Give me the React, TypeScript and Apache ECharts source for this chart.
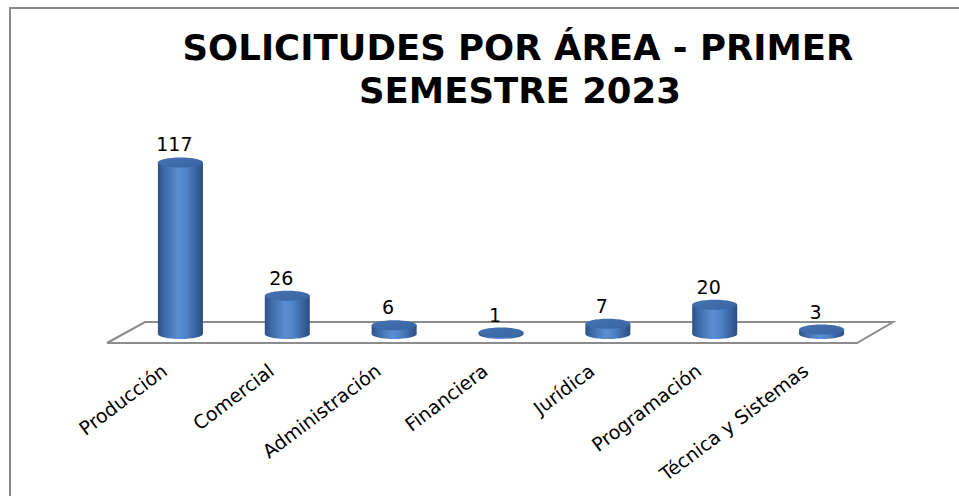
import React, { useEffect, useRef } from "react";
import * as echarts from "echarts";

const categories = ["Producción", "Comercial", "Administración", "Financiera", "Jurídica", "Programación", "Técnica y Sistemas"];
const values = [117, 26, 6, 1, 7, 20, 3];
const titleLines = ["SOLICITUDES POR ÁREA - PRIMER", "SEMESTRE 2023"];

export default function App() {
  const ref = useRef<HTMLDivElement>(null);
  useEffect(() => {
    if (!ref.current) return;
    const chart = echarts.init(ref.current, null, { renderer: "svg" });
    const bodyGrad = () =>
      new echarts.graphic.LinearGradient(0, 0, 1, 0, [
        { offset: 0, color: "#2c5286" },
        { offset: 0.15, color: "#3d6aa8" },
        { offset: 0.45, color: "#5b8fd3" },
        { offset: 0.62, color: "#5084c8" },
        { offset: 0.88, color: "#365f9a" },
        { offset: 1, color: "#2a4e80" },
      ]);
    const topGrad = () =>
      new echarts.graphic.LinearGradient(0, 0, 1, 1, [
        { offset: 0, color: "#4472b0" },
        { offset: 1, color: "#3a65a2" },
      ]);
    const titleStyle = {
      fontFamily: "DejaVu Sans",
      fontWeight: "bold",
      fontSize: 35.5,
      fill: "#000000",
      align: "center",
      verticalAlign: "middle",
    };
    chart.setOption({
      animation: false,
      backgroundColor: "#ffffff",
      graphic: {
        elements: [
          {
            type: "rect",
            z: 0,
            shape: { x: 10, y: 8, width: 980, height: 520 },
            style: { fill: "none", stroke: "#8a8a8a", lineWidth: 2 },
          },
          {
            type: "polygon",
            z: 0,
            shape: { points: [[107, 343], [145, 322], [893, 322], [857, 343]] },
            style: { fill: "#ffffff", stroke: "#8c8c8c", lineWidth: 2 },
          },
          { type: "text", z: 1, style: { ...titleStyle, text: titleLines[0], x: 518, y: 47 } },
          { type: "text", z: 1, style: { ...titleStyle, text: titleLines[1], x: 520, y: 90 } },
        ],
      },
      grid: { left: 127, right: 84, top: 158, bottom: 162 },
      xAxis: {
        type: "category",
        data: categories,
        axisLine: { show: false },
        axisTick: { show: false },
        axisLabel: {
          interval: 0,
          rotate: 37,
          margin: 22,
          padding: [0, 20, 0, 0],
          fontFamily: "DejaVu Sans",
          fontSize: 19,
          color: "#000000",
        },
      },
      yAxis: {
        type: "value",
        min: 0,
        max: 120,
        show: false,
        splitLine: { show: false },
      },
      series: [
        {
          type: "custom",
          z: 5,
          data: values.map((v, i) => [i, v]),
          renderItem: (params: any, api: any) => {
            const idx = api.value(0);
            const v = api.value(1);
            const top = api.coord([idx, v]);
            const base = api.coord([idx, 0]);
            const rx = 22.5;
            const ry = 5;
            const cx = top[0];
            return {
              type: "group",
              children: [
                { type: "ellipse", shape: { cx, cy: base[1], rx, ry }, style: { fill: bodyGrad() } },
                {
                  type: "rect",
                  shape: { x: cx - rx, y: top[1], width: rx * 2, height: Math.max(0, base[1] - top[1]) },
                  style: { fill: bodyGrad() },
                },
                { type: "ellipse", shape: { cx, cy: top[1], rx, ry }, style: { fill: topGrad() } },
                {
                  type: "text",
                  style: {
                    text: String(v),
                    x: cx - 6,
                    y: top[1] - 18,
                    align: "center",
                    verticalAlign: "middle",
                    fontFamily: "DejaVu Sans",
                    fontSize: 19,
                    fill: "#000000",
                  },
                },
              ],
            };
          },
        },
      ],
    });
    return () => chart.dispose();
  }, []);
  return <div ref={ref} style={{ position: "absolute", left: 0, top: 0, width: 959, height: 496 }} />;
}
